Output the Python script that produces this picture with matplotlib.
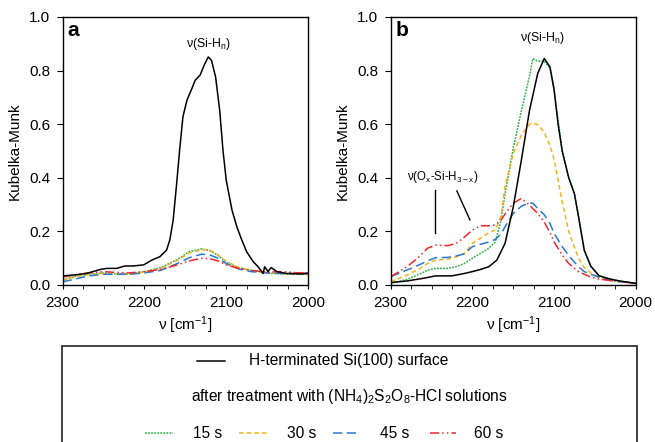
import matplotlib
matplotlib.use("Agg")
import matplotlib.pyplot as plt
from matplotlib.lines import Line2D
from matplotlib.patches import Rectangle
from matplotlib.ticker import MultipleLocator

plt.rcParams['font.family'] = ['Liberation Sans', 'DejaVu Sans']
plt.rcParams['mathtext.default'] = 'regular'

# ---------------- data: panel a ----------------
a_h_x = [2300, 2287, 2271, 2254, 2246, 2234, 2224, 2214, 2201, 2191, 2181, 2173, 2169, 2165,
         2161, 2157, 2153, 2148, 2142, 2138, 2132, 2127, 2122, 2118, 2113, 2108, 2104, 2100,
         2093, 2087, 2081, 2075, 2067, 2061, 2055, 2053, 2049, 2045, 2038, 2026, 2010, 2000]
a_h_y = [0.034, 0.037, 0.043, 0.058, 0.062, 0.062, 0.071, 0.071, 0.075, 0.093, 0.106, 0.13,
         0.168, 0.24, 0.366, 0.503, 0.627, 0.69, 0.733, 0.764, 0.783, 0.82, 0.851, 0.838,
         0.776, 0.652, 0.503, 0.391, 0.28, 0.217, 0.168, 0.124, 0.087, 0.068, 0.043, 0.068,
         0.05, 0.065, 0.05, 0.043, 0.041, 0.043]

a_x = [2300, 2285, 2270, 2250, 2235, 2220, 2200, 2180, 2160, 2145, 2130, 2120, 2110, 2100,
       2085, 2070, 2050, 2030, 2015, 2000]
a_15 = [0.020, 0.032, 0.040, 0.045, 0.042, 0.040, 0.050, 0.065, 0.095, 0.125, 0.135, 0.128,
        0.110, 0.085, 0.065, 0.055, 0.045, 0.040, 0.040, 0.040]
a_30 = [0.018, 0.030, 0.038, 0.042, 0.040, 0.040, 0.048, 0.062, 0.092, 0.120, 0.132, 0.130,
        0.112, 0.088, 0.066, 0.054, 0.046, 0.042, 0.041, 0.040]
a_45 = [0.012, 0.022, 0.033, 0.040, 0.040, 0.040, 0.045, 0.055, 0.080, 0.102, 0.115, 0.112,
        0.100, 0.080, 0.060, 0.050, 0.045, 0.043, 0.044, 0.045]
a_60 = [0.030, 0.038, 0.045, 0.050, 0.047, 0.045, 0.050, 0.058, 0.075, 0.090, 0.100, 0.098,
        0.090, 0.075, 0.062, 0.055, 0.048, 0.050, 0.046, 0.045]

# ---------------- data: panel b ----------------
b_h_x = [2300, 2280, 2260, 2245, 2225, 2210, 2200, 2190, 2180, 2170, 2160, 2150, 2140, 2130,
         2120, 2112, 2105, 2100, 2095, 2090, 2082, 2075, 2070, 2063, 2055, 2045, 2035, 2020, 2000]
b_h_y = [0.009, 0.015, 0.025, 0.034, 0.034, 0.043, 0.050, 0.058, 0.068, 0.093, 0.155, 0.290,
         0.466, 0.652, 0.789, 0.845, 0.814, 0.730, 0.600, 0.500, 0.400, 0.340, 0.255, 0.130,
         0.070, 0.035, 0.025, 0.015, 0.006]

b_x = [2300, 2280, 2265, 2255, 2245, 2230, 2220, 2210, 2200, 2190, 2180, 2172, 2165, 2160,
       2150, 2140, 2130, 2126, 2120, 2112, 2105, 2100, 2090, 2082, 2075, 2070, 2063, 2055,
       2045, 2030, 2000]
b_15 = [0.006, 0.021, 0.040, 0.055, 0.062, 0.062, 0.068, 0.080, 0.100, 0.118, 0.137, 0.160,
        0.240, 0.340, 0.510, 0.650, 0.780, 0.845, 0.835, 0.835, 0.810, 0.730, 0.500, 0.400,
        0.340, 0.255, 0.130, 0.070, 0.035, 0.020, 0.006]
b_30 = [0.012, 0.037, 0.060, 0.080, 0.093, 0.096, 0.105, 0.118, 0.155, 0.175, 0.195, 0.205,
        0.255, 0.370, 0.490, 0.560, 0.600, 0.605, 0.598, 0.570, 0.520, 0.470, 0.310, 0.200,
        0.140, 0.100, 0.065, 0.045, 0.030, 0.019, 0.006]
b_45 = [0.031, 0.056, 0.075, 0.090, 0.102, 0.103, 0.108, 0.116, 0.143, 0.152, 0.160, 0.170,
        0.190, 0.217, 0.267, 0.294, 0.307, 0.305, 0.286, 0.262, 0.230, 0.193, 0.143, 0.110,
        0.085, 0.068, 0.050, 0.040, 0.029, 0.016, 0.006]
b_60 = [0.031, 0.068, 0.106, 0.137, 0.149, 0.147, 0.155, 0.178, 0.205, 0.221, 0.221, 0.224,
        0.242, 0.265, 0.305, 0.323, 0.298, 0.285, 0.267, 0.235, 0.195, 0.161, 0.112, 0.080,
        0.062, 0.050, 0.040, 0.030, 0.022, 0.016, 0.006]

# ---------------- labels ----------------
x_ticks = [2300, 2200, 2100, 2000]
y_ticks = [0.0, 0.2, 0.4, 0.6, 0.8, 1.0]
series_labels = ['15 s', '30 s', '45 s', '60 s']
ref_label = 'H-terminated Si(100) surface'
treat_label = 'after treatment with (NH$_4$)$_2$S$_2$O$_8$-HCl solutions'

C_GREEN = '#2fb04a'
C_ORANGE = '#f7b21c'
C_BLUE = '#2a78d0'
C_RED = '#f0282a'
styles = [
    dict(color=C_GREEN, linestyle=(0, (1.2, 0.8)), lw=1.1),
    dict(color=C_ORANGE, linestyle=(0, (3, 2)), lw=1.1),
    dict(color=C_BLUE, linestyle=(0, (6, 3)), lw=1.1),
    dict(color=C_RED, linestyle=(0, (6, 2, 1, 2, 1, 2)), lw=1.1),
]

W, H = 655, 442
fig = plt.figure(figsize=(W / 100, H / 100), dpi=100)

def fx(px):
    return px / W

def fy(py):
    return 1 - py / H

axA = fig.add_axes([fx(62.7), fy(285), fx(308) - fx(62.7), fy(17) - fy(285)])
axB = fig.add_axes([fx(390.7), fy(285), fx(635.7) - fx(390.7), fy(17) - fy(285)])

for ax, hx, hy, xs, ys in [(axA, a_h_x, a_h_y, a_x, [a_15, a_30, a_45, a_60]),
                           (axB, b_h_x, b_h_y, b_x, [b_15, b_30, b_45, b_60])]:
    for yv, st in zip(ys, styles):
        ax.plot(xs, yv, **st)
    ax.plot(hx, hy, color='black', lw=1.1)
    ax.set_xlim(2300, 2000)
    ax.set_ylim(0, 1.0)
    ax.set_xticks(x_ticks)
    ax.set_yticks(y_ticks)
    ax.set_yticklabels([f'{v:.1f}' for v in y_ticks])
    ax.xaxis.set_minor_locator(MultipleLocator(25))
    ax.tick_params(axis='both', which='both', direction='out', labelsize=11,
                   top=False, right=False)
    ax.tick_params(axis='x', which='both', length=3, pad=5)
    ax.tick_params(axis='y', which='major', length=4, pad=5)
    for sp in ax.spines.values():
        sp.set_linewidth(1.0)
    ax.set_xlabel('ν [cm$^{-1}$]', fontsize=11, labelpad=3)
    ax.set_ylabel('Kubelka-Munk', fontsize=11, labelpad=5)

axA.text(0.018, 0.985, 'a', transform=axA.transAxes, fontsize=15, fontweight='bold',
         ha='left', va='top')
axB.text(0.018, 0.985, 'b', transform=axB.transAxes, fontsize=15, fontweight='bold',
         ha='left', va='top')

axA.text(2122, 0.90, 'ν(Si-H$_n$)', fontsize=8.8, ha='center', va='center')
axB.text(2114, 0.92, 'ν(Si-H$_n$)', fontsize=8.8, ha='center', va='center')
axB.text(2237, 0.404, 'ν(O$_x$-Si-H$_{3-x}$)', fontsize=8.3, ha='center', va='center')
axB.plot([2246, 2246], [0.354, 0.194], color='black', lw=1.0)
axB.plot([2219, 2203], [0.351, 0.243], color='black', lw=1.0)

# ---------------- legend box ----------------
fig.patches.append(Rectangle((fx(62), fy(480)), fx(637) - fx(62), fy(346) - fy(480),
                             transform=fig.transFigure, fill=False, edgecolor='#333333',
                             lw=1.3))
fig.lines.append(Line2D([fx(197), fx(225)], [fy(361), fy(361)], transform=fig.transFigure,
                        color='black', lw=1.1))
fig.text(fx(249), fy(361), ref_label, fontsize=11.2, ha='left', va='center')
fig.text(fx(349), fy(397), treat_label, fontsize=11.2, ha='center', va='center')
sw = [(145, 173, 193), (239, 267, 287), (333, 360, 380), (430, 456, 474)]
for (x0, x1, xt), st, lab in zip(sw, styles, series_labels):
    fig.lines.append(Line2D([fx(x0), fx(x1)], [fy(433), fy(433)], transform=fig.transFigure,
                            **st))
    fig.text(fx(xt), fy(433), lab, fontsize=11.2, ha='left', va='center')

fig.savefig('out.png', dpi=100)
